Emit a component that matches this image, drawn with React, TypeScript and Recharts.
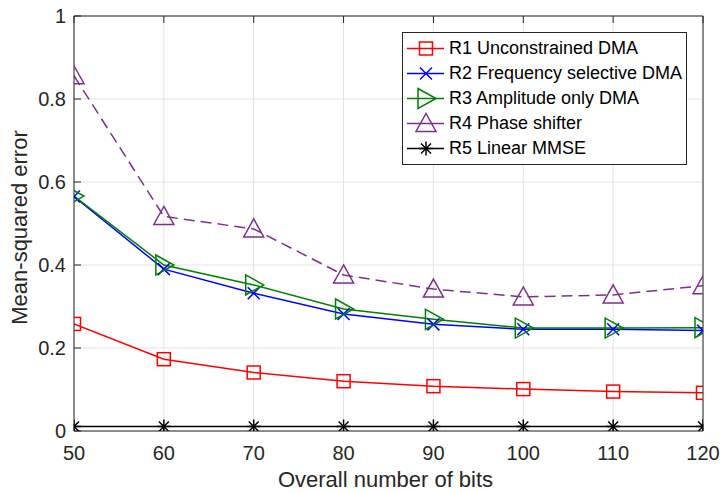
import React from 'react';
import { LineChart, Line, XAxis, YAxis, CartesianGrid, Legend } from 'recharts';

// x values (overall number of bits)
const bits = [50, 60, 70, 80, 90, 100, 110, 120];

// mean-squared error
const r1Unconstrained = [0.258, 0.173, 0.141, 0.12, 0.108, 0.101, 0.095, 0.092];
const r2FreqSelective = [0.565, 0.39, 0.332, 0.282, 0.257, 0.245, 0.245, 0.242];
const r3AmplitudeOnly = [0.566, 0.4, 0.352, 0.294, 0.269, 0.248, 0.248, 0.249];
const r4PhaseShifter = [0.856, 0.517, 0.487, 0.376, 0.342, 0.323, 0.328, 0.35];
const r5LinearMmse = [0.011, 0.011, 0.011, 0.011, 0.011, 0.011, 0.011, 0.011];

const xTicks = [50, 60, 70, 80, 90, 100, 110, 120];
const yTicks = [0, 0.2, 0.4, 0.6, 0.8, 1];

const chartData = bits.map((b, i) => ({
  bits: b,
  r1: r1Unconstrained[i],
  r2: r2FreqSelective[i],
  r3: r3AmplitudeOnly[i],
  r4: r4PhaseShifter[i],
  r5: r5LinearMmse[i],
}));

type MarkerKind = 'square' | 'cross' | 'triRight' | 'triUp' | 'star';

interface SeriesDef {
  key: string;
  name: string;
  color: string;
  marker: MarkerKind;
  dash?: string;
}

const series: SeriesDef[] = [
  { key: 'r1', name: 'R1 Unconstrained DMA', color: '#ff0000', marker: 'square' },
  { key: 'r2', name: 'R2 Frequency selective DMA', color: '#0000ff', marker: 'cross' },
  { key: 'r3', name: 'R3 Amplitude only DMA', color: '#008000', marker: 'triRight' },
  { key: 'r4', name: 'R4 Phase shifter', color: '#7e2f8e', marker: 'triUp', dash: '11 6' },
  { key: 'r5', name: 'R5 Linear MMSE', color: '#000000', marker: 'star' },
];

const FONT = '"Liberation Sans", Arial, Helvetica, sans-serif';
const AXIS_COLOR = '#262626';

const Marker = ({ cx, cy, kind, color }: { cx: number; cy: number; kind: MarkerKind; color: string }) => {
  const common = { fill: 'none', stroke: color, strokeWidth: 1.5 };
  switch (kind) {
    case 'square':
      return <rect x={cx - 6.5} y={cy - 6.5} width={13} height={13} {...common} />;
    case 'cross':
      return (
        <g {...common}>
          <line x1={cx - 6} y1={cy - 6} x2={cx + 6} y2={cy + 6} />
          <line x1={cx - 6} y1={cy + 6} x2={cx + 6} y2={cy - 6} />
        </g>
      );
    case 'triRight':
      return <polygon points={`${cx - 8},${cy - 10} ${cx + 10},${cy} ${cx - 8},${cy + 10}`} {...common} />;
    case 'triUp':
      return <polygon points={`${cx},${cy - 10} ${cx + 10},${cy + 8} ${cx - 10},${cy + 8}`} {...common} />;
    case 'star':
      return (
        <g {...common}>
          <line x1={cx - 7} y1={cy} x2={cx + 7} y2={cy} />
          <line x1={cx} y1={cy - 7} x2={cx} y2={cy + 7} />
          <line x1={cx - 5} y1={cy - 5} x2={cx + 5} y2={cy + 5} />
          <line x1={cx - 5} y1={cy + 5} x2={cx + 5} y2={cy - 5} />
        </g>
      );
    default:
      return null;
  }
};

const renderLegend = () => (
  <div
    style={{
      border: `1px solid ${AXIS_COLOR}`,
      background: '#fff',
      width: 283,
      padding: '3px 0',
      fontFamily: FONT,
      fontSize: 18,
      color: '#000',
    }}
  >
    {series.map((s) => (
      <div key={s.key} style={{ display: 'flex', alignItems: 'center', height: 25 }}>
        <svg width={46} height={25} style={{ flex: 'none' }}>
          <line x1={4} y1={12.5} x2={41} y2={12.5} stroke={s.color} strokeWidth={1.5} />
          <Marker cx={23} cy={12.5} kind={s.marker} color={s.color} />
        </svg>
        <span style={{ whiteSpace: 'nowrap' }}>{s.name}</span>
      </div>
    ))}
  </div>
);

const YLabel = (props: any) => {
  const vb = props.viewBox || { x: 0, y: 16, height: 415 };
  const x = 27;
  const y = vb.y + vb.height / 2 + 4;
  return (
    <text
      x={x}
      y={y}
      transform={`rotate(-90, ${x}, ${y})`}
      textAnchor="middle"
      fontFamily={FONT}
      fontSize={22}
      fill={AXIS_COLOR}
    >
      Mean-squared error
    </text>
  );
};

const XLabel = (props: any) => {
  const vb = props.viewBox || { x: 74, width: 629 };
  return (
    <text
      x={vb.x + vb.width / 2 - 3}
      y={487}
      textAnchor="middle"
      fontFamily={FONT}
      fontSize={22}
      fill={AXIS_COLOR}
    >
      Overall number of bits
    </text>
  );
};

const tickStyle = { fontFamily: FONT, fontSize: 20, fill: AXIS_COLOR };

export default function App() {
  return (
    <div style={{ position: 'absolute', left: 0, top: 0, width: 720, height: 493, background: '#fff' }}>
      <LineChart width={720} height={493} data={chartData} margin={{ top: 0, right: 0, bottom: 0, left: 0 }}>
        <CartesianGrid stroke="#e3e3e3" strokeWidth={1} />
        <XAxis
          dataKey="bits"
          type="number"
          domain={[50, 120]}
          ticks={xTicks}
          height={62}
          stroke={AXIS_COLOR}
          tick={tickStyle}
          tickSize={-7}
          tickMargin={22}
          interval={0}
          allowDataOverflow
          label={<XLabel />}
        />
        <XAxis
          xAxisId="top"
          orientation="top"
          dataKey="bits"
          type="number"
          domain={[50, 120]}
          ticks={xTicks}
          height={16}
          stroke={AXIS_COLOR}
          tickSize={-7}
          interval={0}
          tickFormatter={() => ''}
        />
        <YAxis
          type="number"
          domain={[0, 1]}
          ticks={yTicks}
          width={74}
          stroke={AXIS_COLOR}
          tick={tickStyle}
          tickSize={-7}
          tickMargin={15}
          interval={0}
          tickFormatter={(v: number) => String(v)}
          allowDataOverflow
          label={<YLabel />}
        />
        <YAxis
          yAxisId="right"
          orientation="right"
          type="number"
          domain={[0, 1]}
          ticks={yTicks}
          width={17}
          stroke={AXIS_COLOR}
          tickSize={-7}
          interval={0}
          tickFormatter={() => ''}
        />
        <Legend
          layout="vertical"
          align="center"
          verticalAlign="middle"
          content={renderLegend}
          wrapperStyle={{ position: 'absolute', left: 402, top: 32, width: 285, height: 'auto' }}
        />
        {series.map((s) => (
          <Line
            key={s.key}
            dataKey={s.key}
            name={s.name}
            type="linear"
            stroke={s.color}
            strokeWidth={1.5}
            strokeDasharray={s.dash}
            isAnimationActive={false}
            activeDot={false}
            dot={(p: any) => (
              <Marker key={`${s.key}-${p.index}`} cx={p.cx} cy={p.cy} kind={s.marker} color={s.color} />
            )}
          />
        ))}
      </LineChart>
    </div>
  );
}
